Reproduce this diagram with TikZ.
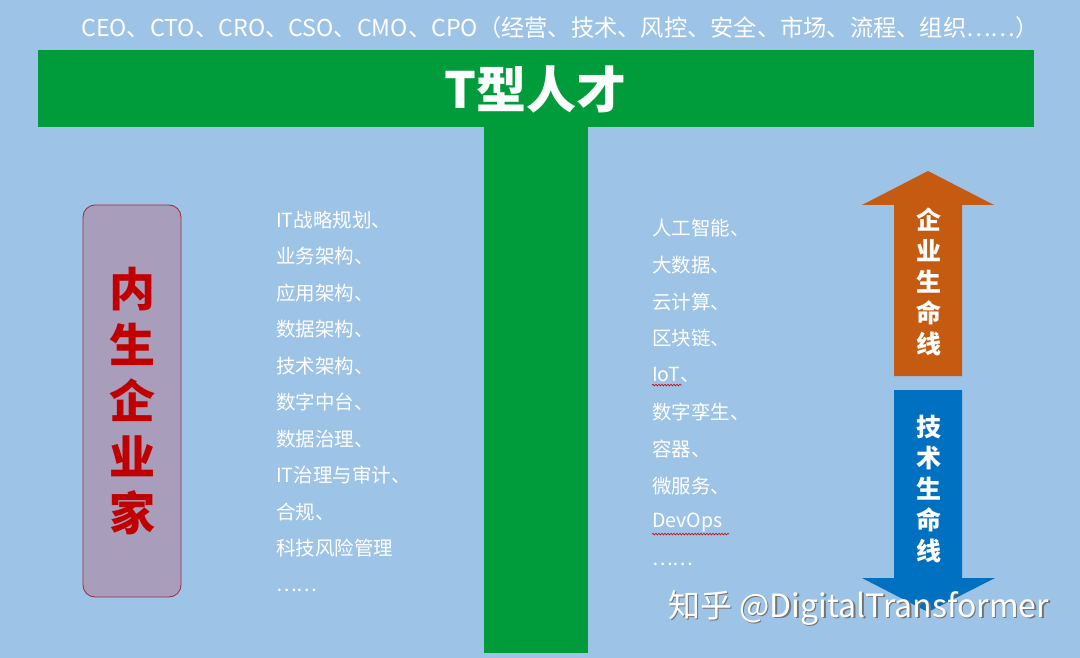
\documentclass[tikz,border=0pt]{standalone}
\usepackage{fontspec}
\setmainfont{Noto Sans CJK SC}
\usetikzlibrary{decorations.pathmorphing}
\definecolor{bg}{RGB}{157,195,230}
\definecolor{tgreen}{RGB}{0,155,58}
\definecolor{orng}{RGB}{197,90,17}
\definecolor{blu}{RGB}{0,112,192}
\definecolor{boxfill}{RGB}{168,158,187}
\definecolor{boxred}{RGB}{192,0,0}
\definecolor{boxedge}{RGB}{160,40,60}
\begin{document}
\begin{tikzpicture}[x=1pt,y=-1pt,
  bar/.style={fill=tgreen, inner sep=0pt, minimum width=#1},
  listitem/.style={anchor=west, text=white, inner sep=0pt, font=\fontsize{19.5}{22}\selectfont},
  vtext/.style={align=center, inner sep=0pt, text=white, font=\bfseries\fontsize{25}{31}\selectfont},
  squiggle/.style={draw=red!80!black, line width=0.6pt, decorate, decoration={snake, amplitude=0.8pt, segment length=3pt}}
]
\fill[bg] (0,0) rectangle (1080,658);
\useasboundingbox (0,0) rectangle (1080,658);

% T shape
\node[bar=996pt, minimum height=77pt] (tbar) at (536,88.5) {};
\node[bar=104pt, minimum height=526pt, anchor=north] (stem) at (536,126.5) {};
\node[text=white, font=\bfseries\fontsize{50}{54}\selectfont, inner sep=0pt] (title) at (535,89) {T型人才};

% top line
\node[text=white, inner sep=0pt, font=\fontsize{23.25}{26}\selectfont] (roles) at (560,28)
  {CEO、CTO、CRO、CSO、CMO、CPO（经营、技术、风控、安全、市场、流程、组织……）};

% left box
\node[draw=boxedge, line width=0.8pt, fill=boxfill, rounded corners=12pt,
      minimum width=98pt, minimum height=392pt] (ent) at (132,401) {};
\node[text=boxred, align=center, inner sep=0pt, font=\bfseries\fontsize{46}{56}\selectfont] (entt) at (132,401)
  {内\\生\\企\\业\\家};

% left list
\foreach \t [count=\i from 0] in {IT战略规划、,业务架构、,应用架构、,数据架构、,技术架构、,数字中台、,数据治理、,IT治理与审计、,合规、,科技风险管理}
  \node[listitem] (L\i) at (276,220+36.5*\i) {\t};
\node[listitem] (L10) at (276,590) {……};

% right list
\foreach \t [count=\i from 0] in {人工智能、,大数据、,云计算、,区块链、,IoT、,数字孪生、,容器、,微服务、,DevOps}
  \node[listitem] (R\i) at (652,228+36.8*\i) {\t};
\node[listitem] (R9) at (652,564) {……};
\draw[squiggle] (R4.south west) ++(0,2) -- ++(30,0);
\draw[squiggle] (R8.south west) ++(0,2) -- ++(77,0);

% arrows
\fill[orng] (894,376) -- (894,205) -- (862,205) -- (928,171) -- (994,205) -- (962,205) -- (962,376) -- cycle;
\fill[blu] (894,390) -- (894,578) -- (862,578) -- (928,612) -- (995,578) -- (962,578) -- (962,390) -- cycle;
\node[vtext] (up) at (929,282) {企\\业\\生\\命\\线};
\node[vtext] (down) at (929,489) {技\\术\\生\\命\\线};

% watermark
\node[text=black!55, inner sep=0pt, font=\fontsize{32}{34}\selectfont, anchor=west] at (669.5,609.5) {知乎 @DigitalTransformer};
\node[text=white, inner sep=0pt, font=\fontsize{32}{34}\selectfont, anchor=west] (wm) at (668,608) {知乎 @DigitalTransformer};
\end{tikzpicture}
\end{document}
